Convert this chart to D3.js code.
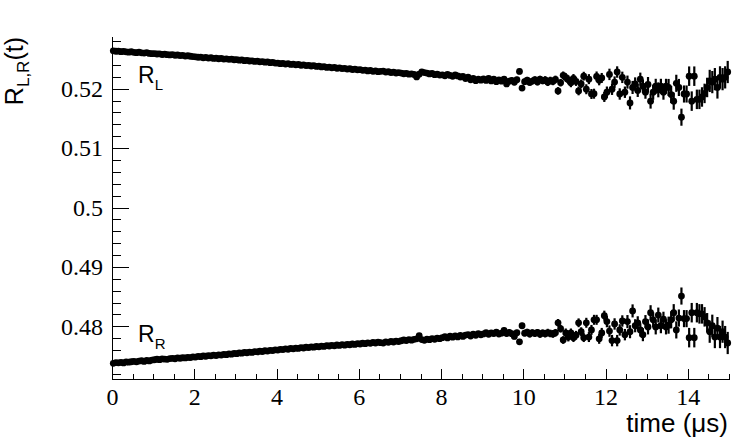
<!DOCTYPE html>
<html>

<head>
  <meta charset="utf-8" />
  <script src="https://cdn.jsdelivr.net/npm/d3@7"></script>
  <style>
    body {
      margin: 0;
      background: #fff;
    }

    .axis path,
    .axis line {
      stroke: #000;
      stroke-width: 1px;
      shape-rendering: crispEdges;
    }

    .title {
      font-family: "Liberation Sans", Arial, sans-serif;
      fill: #000;
    }

    .err {
      stroke: #000;
      stroke-width: 2.2px;
    }
  </style>
</head>

<body>
<script>
  "use strict";

  // time bins (us)
  var binStart = 0,
    binWidth = 0.0625;

  // R_L(t), 16 bins per microsecond
  var rL = [
    0.52636, 0.52629, 0.52631, 0.52622, 0.52627, 0.52620, 0.52614, 0.52621, 0.52612, 0.52606, 0.52613, 0.52603, 0.52598, 0.52605, 0.52593, 0.52589,
    0.52591, 0.52583, 0.52586, 0.52575, 0.52580, 0.52571, 0.52567, 0.52574, 0.52562, 0.52566, 0.52557, 0.52560, 0.52549, 0.52554, 0.52545, 0.52540,
    0.52536, 0.52528, 0.52531, 0.52519, 0.52525, 0.52514, 0.52520, 0.52509, 0.52513, 0.52503, 0.52510, 0.52498, 0.52502, 0.52493, 0.52497, 0.52486,
    0.52488, 0.52479, 0.52483, 0.52470, 0.52476, 0.52465, 0.52469, 0.52458, 0.52463, 0.52451, 0.52456, 0.52445, 0.52450, 0.52437, 0.52443, 0.52430,
    0.52431, 0.52421, 0.52426, 0.52413, 0.52420, 0.52407, 0.52412, 0.52401, 0.52406, 0.52394, 0.52400, 0.52388, 0.52393, 0.52381, 0.52386, 0.52374,
    0.52378, 0.52366, 0.52372, 0.52358, 0.52363, 0.52351, 0.52357, 0.52343, 0.52349, 0.52337, 0.52342, 0.52329, 0.52335, 0.52322, 0.52328, 0.52316,
    0.52320, 0.52308, 0.52313, 0.52299, 0.52306, 0.52292, 0.52299, 0.52285, 0.52291, 0.52296, 0.52279, 0.52284, 0.52270, 0.52277, 0.52263, 0.52269,
    0.52262, 0.52251, 0.52258, 0.52243, 0.52249, 0.52238, 0.52198, 0.52244, 0.52283, 0.52270, 0.52262, 0.52248, 0.52255, 0.52236, 0.52244, 0.52229,
    0.52232, 0.52215, 0.52241, 0.52222, 0.52208, 0.52230, 0.52214, 0.52196, 0.52205, 0.52170, 0.52192, 0.52150, 0.52174, 0.52135, 0.52160, 0.52142,
    0.52165, 0.52138, 0.52172, 0.52130, 0.52158, 0.52118, 0.52149, 0.52126, 0.52160, 0.52080, 0.52125, 0.52140, 0.52108, 0.52150, 0.52290, 0.52010,
    0.52118, 0.52142, 0.52105, 0.52128, 0.52150, 0.52112, 0.52160, 0.52131, 0.52146, 0.52108, 0.52137, 0.52122, 0.52155, 0.51962, 0.52100, 0.52225,
    0.52188, 0.52150, 0.52098, 0.52172, 0.52120, 0.51962, 0.52080, 0.52210, 0.51990, 0.52160, 0.51910, 0.51915, 0.52205, 0.52140, 0.52180, 0.51860,
    0.51940, 0.52240, 0.51990, 0.52110, 0.52280, 0.51910, 0.52190, 0.51940, 0.52110, 0.51760, 0.52020, 0.52080, 0.51970, 0.52160, 0.52040, 0.51940,
    0.52070, 0.51790, 0.51940, 0.52040, 0.51980, 0.52040, 0.51940, 0.52040, 0.52020, 0.51900, 0.51790, 0.52090, 0.52020, 0.51520, 0.51910, 0.51910,
    0.52210, 0.51790, 0.52210, 0.51820, 0.51820, 0.51860, 0.51920, 0.52020, 0.52130, 0.52110, 0.52160, 0.52020, 0.52190, 0.52160, 0.52190, 0.52280
  ];

  // R_R(t)
  var rR = [
    0.47378, 0.47391, 0.47386, 0.47393, 0.47384, 0.47402, 0.47397, 0.47404, 0.47412, 0.47403, 0.47415, 0.47421, 0.47410, 0.47426, 0.47419, 0.47432,
    0.47438, 0.47446, 0.47440, 0.47452, 0.47449, 0.47445, 0.47458, 0.47462, 0.47455, 0.47468, 0.47463, 0.47472, 0.47469, 0.47477, 0.47474, 0.47486,
    0.47483, 0.47495, 0.47490, 0.47502, 0.47497, 0.47508, 0.47504, 0.47516, 0.47509, 0.47521, 0.47517, 0.47528, 0.47523, 0.47536, 0.47531, 0.47544,
    0.47541, 0.47553, 0.47548, 0.47561, 0.47556, 0.47567, 0.47562, 0.47575, 0.47570, 0.47582, 0.47577, 0.47589, 0.47584, 0.47597, 0.47592, 0.47605,
    0.47600, 0.47613, 0.47609, 0.47621, 0.47615, 0.47628, 0.47622, 0.47633, 0.47629, 0.47641, 0.47636, 0.47648, 0.47642, 0.47654, 0.47649, 0.47661,
    0.47655, 0.47668, 0.47662, 0.47674, 0.47669, 0.47680, 0.47673, 0.47686, 0.47679, 0.47691, 0.47684, 0.47697, 0.47690, 0.47703, 0.47696, 0.47709,
    0.47703, 0.47716, 0.47709, 0.47722, 0.47714, 0.47728, 0.47720, 0.47734, 0.47726, 0.47718, 0.47740, 0.47731, 0.47746, 0.47737, 0.47752, 0.47744,
    0.47758, 0.47770, 0.47762, 0.47776, 0.47768, 0.47781, 0.47790, 0.47842, 0.47778, 0.47765, 0.47786, 0.47775, 0.47795, 0.47783, 0.47802, 0.47792,
    0.47810, 0.47828, 0.47805, 0.47833, 0.47818, 0.47840, 0.47822, 0.47846, 0.47830, 0.47853, 0.47862, 0.47838, 0.47870, 0.47850, 0.47876, 0.47858,
    0.47872, 0.47895, 0.47866, 0.47890, 0.47878, 0.47902, 0.47870, 0.47885, 0.47930, 0.47880, 0.47900, 0.47876, 0.47830, 0.47892, 0.47740, 0.48010,
    0.47885, 0.47902, 0.47870, 0.47893, 0.47880, 0.47898, 0.47865, 0.47890, 0.47876, 0.47895, 0.47880, 0.47872, 0.47892, 0.48060, 0.47960, 0.47770,
    0.47890, 0.47820, 0.47890, 0.47810, 0.47850, 0.48060, 0.47910, 0.47810, 0.48060, 0.47820, 0.47940, 0.48110, 0.48110, 0.47790, 0.47890, 0.48180,
    0.48080, 0.47920, 0.47760, 0.48040, 0.47760, 0.47940, 0.48090, 0.47860, 0.48080, 0.47910, 0.48260, 0.48010, 0.48060, 0.47940, 0.47860, 0.48080,
    0.47990, 0.48230, 0.48110, 0.47990, 0.48190, 0.48010, 0.48120, 0.47990, 0.48020, 0.48110, 0.48230, 0.47940, 0.48140, 0.48510, 0.48130, 0.48130,
    0.47810, 0.48230, 0.47810, 0.48230, 0.48210, 0.48210, 0.48160, 0.48060, 0.47910, 0.48010, 0.47820, 0.47970, 0.47820, 0.47910, 0.47820, 0.47720
  ];

  // error per half microsecond (same for both)
  var errHalf = [
    0.000039, 0.000045, 0.000051, 0.000059, 0.000067, 0.000076, 0.000087, 0.000099, 0.000114, 0.00013,
    0.00015, 0.00017, 0.00019, 0.00022, 0.00025, 0.00029, 0.00033, 0.00038, 0.00043, 0.00049,
    0.00056, 0.00064, 0.00074, 0.00084, 0.00096, 0.0011, 0.00126, 0.00144, 0.00164, 0.00187
  ];

  var xTicks = [0, 2, 4, 6, 8, 10, 12, 14];
  var yTicks = [0.48, 0.49, 0.5, 0.51, 0.52];

  var width = 747,
    height = 442;

  var svg = d3.select("body")
    .append("svg")
    .attr("width", width)
    .attr("height", height);

  svg.append("rect").attr("width", width).attr("height", height).attr("fill", "#fff");

  var x = d3.scaleLinear().domain([0, 15]).range([112, 729]);
  var y = d3.scaleLinear().domain([0.47114, 0.52886]).range([379, 36]);

  // minor ticks first
  svg.append("g")
    .attr("class", "axis")
    .attr("transform", "translate(0,379)")
    .call(d3.axisBottom(x).tickValues(d3.range(0, 15.01, 0.5)).tickSize(-5).tickSizeOuter(0).tickFormat(""))
    .select(".domain").remove();

  svg.append("g")
    .attr("class", "axis")
    .attr("transform", "translate(112,0)")
    .call(d3.axisLeft(y).tickValues(d3.range(0.472, 0.5285, 0.002)).tickSize(-9).tickSizeOuter(0).tickFormat(""))
    .select(".domain").remove();

  // major ticks + labels
  var xAxis = svg.append("g")
    .attr("class", "axis")
    .attr("transform", "translate(0,379)")
    .call(d3.axisBottom(x).tickValues(xTicks).tickSize(-10).tickSizeOuter(0).tickPadding(9));

  var yAxis = svg.append("g")
    .attr("class", "axis")
    .attr("transform", "translate(112,0)")
    .call(d3.axisLeft(y).tickValues(yTicks).tickSize(-17).tickSizeOuter(0).tickPadding(9)
      .tickFormat(function(d) {
        return String(d);
      }));

  [xAxis, yAxis].forEach(function(a) {
    a.attr("font-family", null).attr("font-size", null);
    a.selectAll("text")
      .style("font-family", "'Liberation Serif', 'DejaVu Serif', serif")
      .style("font-size", "24px")
      .style("fill", "#000");
  });

  // axis titles
  svg.append("text")
    .attr("class", "title")
    .attr("x", 728)
    .attr("y", 432)
    .attr("text-anchor", "end")
    .style("font-size", "26px")
    .text("time (\u03bcs)");

  var yt = svg.append("text")
    .attr("class", "title")
    .attr("transform", "translate(23,37) rotate(-90)")
    .attr("text-anchor", "end")
    .style("font-size", "25px");
  yt.append("tspan").text("R");
  yt.append("tspan").attr("dy", 6).style("font-size", "17px").text("L,R");
  yt.append("tspan").attr("dy", -6).text("(t)");

  // series labels
  function label(px, py, sub) {
    var t = svg.append("text")
      .attr("class", "title")
      .attr("x", px)
      .attr("y", py)
      .style("font-size", "23px");
    t.append("tspan").text("R");
    t.append("tspan").attr("dy", 7).style("font-size", "15px").text(sub);
  }
  label(138, 83, "L");
  label(138, 342, "R");

  // points with error bars
  function drawSeries(values) {
    var pts = values.map(function(v, i) {
      return {
        t: binStart + (i + 0.5) * binWidth,
        v: v,
        e: errHalf[Math.floor(i / 8)]
      };
    });
    var g = svg.append("g");
    g.selectAll("line.err")
      .data(pts)
      .enter()
      .append("line")
      .attr("class", "err")
      .attr("x1", function(d) { return x(d.t); })
      .attr("x2", function(d) { return x(d.t); })
      .attr("y1", function(d) { return y(d.v - d.e); })
      .attr("y2", function(d) { return y(d.v + d.e); });
    g.selectAll("circle")
      .data(pts)
      .enter()
      .append("circle")
      .attr("cx", function(d) { return x(d.t); })
      .attr("cy", function(d) { return y(d.v); })
      .attr("r", 3.4)
      .attr("fill", "#000");
  }
  drawSeries(rL);
  drawSeries(rR);
</script>
</body>

</html>
